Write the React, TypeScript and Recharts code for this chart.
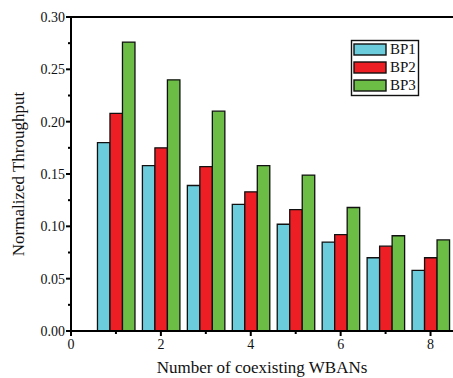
import React from 'react';
import { BarChart, Bar, XAxis, YAxis } from 'recharts';

const wbans = [1, 2, 3, 4, 5, 6, 7, 8];
const bp1 = [0.180, 0.158, 0.139, 0.121, 0.102, 0.085, 0.070, 0.058];
const bp2 = [0.208, 0.175, 0.157, 0.133, 0.116, 0.092, 0.081, 0.070];
const bp3 = [0.276, 0.240, 0.210, 0.158, 0.149, 0.118, 0.091, 0.087];
const xTicks = [0, 1, 2, 3, 4, 5, 6, 7, 8];
const xLabels = [0, 2, 4, 6, 8];
const yTicks = [0, 0.025, 0.05, 0.075, 0.1, 0.125, 0.15, 0.175, 0.2, 0.225, 0.25, 0.275, 0.3];

const data = wbans.map((x, i) => ({ x, BP1: bp1[i], BP2: bp2[i], BP3: bp3[i] }));

const FONT = '"Liberation Serif", "Times New Roman", serif';
const COLORS = { BP1: '#6BCCDC', BP2: '#ED1E24', BP3: '#6BBD45' };

const XTick = (props: any) => {
  const { x, y, payload } = props;
  const v = payload.value;
  const major = xLabels.includes(v);
  const axisY = y - 2;
  return (
    <g>
      <rect x={x - 1} y={axisY} width={2} height={major ? 5 : 3} fill="#000" />
      {major && (
        <text x={x} y={axisY + 18} textAnchor="middle" fontFamily={FONT} fontSize={14} fill="#111">
          {v}
        </text>
      )}
    </g>
  );
};

const YTick = (props: any) => {
  const { x, y, payload } = props;
  const v = payload.value;
  const major = Math.abs(Math.round(v * 20) - v * 20) < 1e-6;
  const axisX = x + 2;
  return (
    <g>
      <rect x={axisX - (major ? 5 : 3)} y={y - 1} width={major ? 5 : 3} height={2} fill="#000" />
      {major && (
        <text x={axisX - 6} y={y + 5} textAnchor="end" fontFamily={FONT} fontSize={14} fill="#111">
          {v.toFixed(2)}
        </text>
      )}
    </g>
  );
};

const Legend = () => {
  const keys: (keyof typeof COLORS)[] = ['BP1', 'BP2', 'BP3'];
  return (
    <g>
      <rect x={351.5} y={40.5} width={67} height={55} fill="#fff" stroke="#111" strokeWidth={1.4} />
      {keys.map((k, i) => (
        <g key={k}>
          <rect x={354} y={44 + i * 18} width={32} height={11} fill={COLORS[k]} stroke="#111" strokeWidth={1.4} />
          <text x={390} y={54 + i * 18} fontFamily={FONT} fontSize={15} fill="#111">
            {k}
          </text>
        </g>
      ))}
    </g>
  );
};

export default function App() {
  return (
    <div style={{ position: 'absolute', left: 0, top: 0, width: 453, height: 378, background: '#fff' }}>
      <BarChart
        width={453}
        height={378}
        data={data}
        margin={{ top: 17, right: 0, bottom: 17, left: 0 }}
        barGap={0}
        barSize={12.5}
      >
        <XAxis
          xAxisId="main"
          dataKey="x"
          type="number"
          domain={[0, 8.5]}
          ticks={xTicks}
          interval={0}
          tickLine={false}
          tick={<XTick />}
          tickSize={2}
          tickMargin={0}
          axisLine={{ stroke: '#000', strokeWidth: 2 }}
          height={30}
        />
        <XAxis
          xAxisId="top"
          orientation="top"
          dataKey="x"
          type="number"
          domain={[0, 8.5]}
          ticks={xTicks}
          interval={0}
          mirror
          tick={false}
          tickSize={3}
          tickLine={{ stroke: '#000', strokeWidth: 2 }}
          axisLine={{ stroke: '#000', strokeWidth: 2 }}
          height={1}
        />
        <YAxis
          type="number"
          domain={[0, 0.3]}
          ticks={yTicks}
          interval={0}
          tickLine={false}
          tick={<YTick />}
          tickSize={2}
          tickMargin={0}
          width={71}
          axisLine={{ stroke: '#000', strokeWidth: 2 }}
        />
        <Bar xAxisId="main" dataKey="BP1" fill={COLORS.BP1} stroke="#111" strokeWidth={1.3} isAnimationActive={false} />
        <Bar xAxisId="main" dataKey="BP2" fill={COLORS.BP2} stroke="#111" strokeWidth={1.3} isAnimationActive={false} />
        <Bar xAxisId="main" dataKey="BP3" fill={COLORS.BP3} stroke="#111" strokeWidth={1.3} isAnimationActive={false} />
        <text x={262} y={373} textAnchor="middle" fontFamily={FONT} fontSize={17} fill="#111">
          Number of coexisting WBANs
        </text>
        <text
          x={24}
          y={174}
          textAnchor="middle"
          fontFamily={FONT}
          fontSize={17}
          fill="#111"
          transform="rotate(-90 24 174)"
        >
          Normalized Throughput
        </text>
        <Legend />
      </BarChart>
    </div>
  );
}
